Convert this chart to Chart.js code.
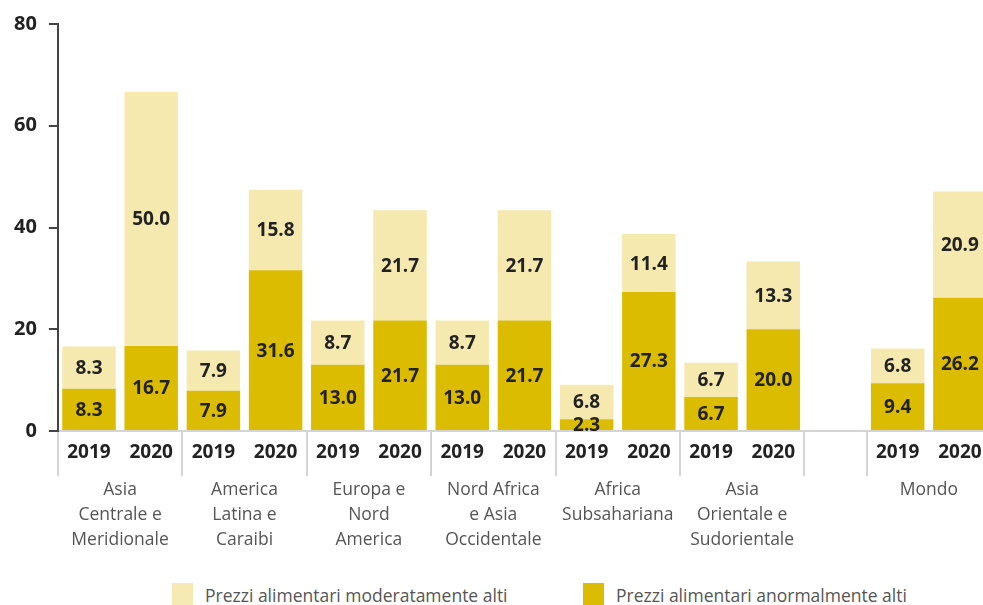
<!DOCTYPE html>
<html>
<head>
<meta charset="utf-8">
<script src="https://cdn.jsdelivr.net/npm/chart.js@4.4.1/dist/chart.umd.min.js"></script>
<style>
    html, body { margin: 0; padding: 0; background: #fff; overflow: hidden; }
    #wrap { position: relative; width: 995px; height: 575px; }
    .legend { position: absolute; top: 583px; font: 17.5px "Open Sans", sans-serif; color: #555; }
    .legend span.box { position: absolute; top: 0; width: 21px; height: 23px; }
    .legend span.txt { position: absolute; top: 0; white-space: nowrap; }
</style>
</head>
<body>
<div id="wrap"><canvas id="chart"></canvas></div>
<div class="legend" style="left:172px"><span class="box" style="background:#f5e9b4"></span><span class="txt" style="left:33px">Prezzi alimentari moderatamente alti</span></div>
<div class="legend" style="left:583px"><span class="box" style="background:#dbbc00"></span><span class="txt" style="left:33px">Prezzi alimentari anormalmente alti</span></div>
<script>
// one slot per bar; the empty slot separates the regions from "Mondo"
var years = ['2019', '2020', '2019', '2020', '2019', '2020', '2019', '2020', '2019', '2020', '2019', '2020', '', '2019', '2020'];
var regions = [
    ['Asia', 'Centrale e', 'Meridionale'],
    ['America', 'Latina e', 'Caraibi'],
    ['Europa e', 'Nord', 'America'],
    ['Nord Africa', 'e Asia', 'Occidentale'],
    ['Africa', 'Subsahariana'],
    ['Asia', 'Orientale e', 'Sudorientale'],
    ['Mondo']
];
var anormalmenteAlti = [8.3, 16.7, 7.9, 31.6, 13.0, 21.7, 13.0, 21.7, 2.3, 27.3, 6.7, 20.0, null, 9.4, 26.2];
var moderatamenteAlti = [8.3, 50.0, 7.9, 15.8, 8.7, 21.7, 8.7, 21.7, 6.8, 11.4, 6.7, 13.3, null, 6.8, 20.9];
var yTicks = [0, 20, 40, 60, 80];

// centre of each region = between its 2019 and 2020 bars
var regionCenters = [];
years.forEach(function (y, i) {
    if (y === '2019') regionCenters.push(i + 0.5);
});

Chart.defaults.font.family = '"Open Sans", sans-serif';

var valueLabels = {
    id: 'valueLabels',
    afterDatasetsDraw: function (chart) {
        var ctx = chart.ctx;
        ctx.save();
        ctx.font = 'bold 19px "Open Sans", sans-serif';
        ctx.fillStyle = '#222';
        ctx.textAlign = 'center';
        ctx.textBaseline = 'middle';
        chart.data.datasets.forEach(function (ds, i) {
            chart.getDatasetMeta(i).data.forEach(function (bar, j) {
                var v = ds.data[j];
                if (v == null) return;
                ctx.fillText(v.toFixed(1), bar.x, (bar.y + bar.base) / 2 + 1);
            });
        });
        ctx.restore();
    }
};

new Chart(document.getElementById('chart'), {
    type: 'bar',
    data: {
        labels: years,
        datasets: [{
            label: 'Prezzi alimentari anormalmente alti',
            data: anormalmenteAlti,
            backgroundColor: '#dbbc00'
        }, {
            label: 'Prezzi alimentari moderatamente alti',
            data: moderatamenteAlti,
            backgroundColor: '#f6e9b0'
        }]
    },
    options: {
        responsive: true,
        maintainAspectRatio: false,
        animation: false,
        datasets: { bar: { categoryPercentage: 1, barPercentage: 0.86 } },
        layout: { padding: { top: 22, left: 2, right: 4, bottom: 8 } },
        plugins: {
            legend: { display: false },
            tooltip: { enabled: false }
        },
        scales: {
            x: {
                stacked: true,
                weight: 0,
                afterFit: function (scale) { scale.height = 46; },
                border: { color: '#d4d4d4', width: 2 },
                grid: {
                    drawOnChartArea: false,
                    tickLength: 45,
                    lineWidth: 2,
                    color: function (c) {
                        var i = c.index;
                        if (i === undefined) return 'rgba(0,0,0,0)';
                        return ((i <= 12 && i % 2 === 0) || i === 13) ? '#d4d4d4' : 'rgba(0,0,0,0)';
                    }
                },
                ticks: {
                    padding: -35,
                    color: '#222',
                    font: { size: 19, weight: 'bold' },
                    autoSkip: false,
                    maxRotation: 0
                }
            },
            x2: {
                type: 'linear',
                position: 'bottom',
                weight: 1,
                offset: false,
                min: -0.5,
                max: years.length - 0.5,
                afterFit: function (scale) { scale.height = 90; },
                grid: { display: false },
                border: { display: false },
                afterBuildTicks: function (scale) {
                    scale.ticks = regionCenters.map(function (v) { return { value: v }; });
                },
                ticks: {
                    padding: -8,
                    color: '#555',
                    font: { size: 17.5, lineHeight: 1.45 },
                    autoSkip: false,
                    maxRotation: 0,
                    callback: function (value) {
                        var k = regionCenters.indexOf(value);
                        return k >= 0 ? regions[k] : '';
                    }
                }
            },
            y: {
                stacked: true,
                min: 0,
                max: 80,
                afterBuildTicks: function (scale) {
                    scale.ticks = yTicks.map(function (v) { return { value: v }; });
                },
                border: { color: '#444', width: 2 },
                grid: { drawOnChartArea: false, tickLength: 9, color: '#444', lineWidth: 2 },
                ticks: {
                    padding: 12,
                    color: '#222',
                    font: { size: 20, weight: 'bold' }
                }
            }
        }
    },
    plugins: [valueLabels]
});
</script>
</body>
</html>
